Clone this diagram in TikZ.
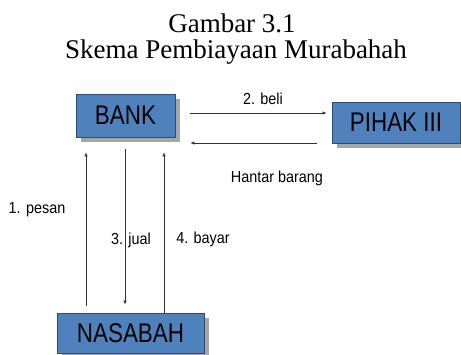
\documentclass[tikz,border=0pt]{standalone}
\usepackage{fontspec}
\setmainfont{Liberation Serif}
\setsansfont{Liberation Sans}
\usetikzlibrary{arrows.meta}
\definecolor{boxblue}{HTML}{4F81BD}
\definecolor{boxedge}{HTML}{2C4D75}
\definecolor{shadowgray}{HTML}{A6A6A6}
\definecolor{linegray}{HTML}{333333}
\begin{document}
\begin{tikzpicture}[x=1pt,y=-1pt,
  party/.style={draw=boxedge, line width=0.8pt, fill=boxblue, inner sep=0pt,
    font=\sffamily\fontsize{27}{30}\selectfont},
  boxshadow/.style={fill=shadowgray, draw=none},
  arr/.style={draw=linegray, line width=0.7pt, -{Latex[length=4pt,width=3.5pt]}},
  lbl/.style={font=\sffamily\fontsize{16}{18}\selectfont, inner sep=0pt},
  ttl/.style={font=\rmfamily\fontsize{27}{30}\selectfont, inner sep=0pt, anchor=base}]
\useasboundingbox (0,0) rectangle (461,355);

% title
\node[ttl] (t1) at (232,33) {Gambar 3.1};
\node[ttl] (t2) at (236,59) {Skema Pembiayaan Murabahah};

% shadows behind the boxes
\fill[boxshadow] (81,99) rectangle (180,142);
\fill[boxshadow] (337,107) rectangle (461,148);
\fill[boxshadow] (62,318) rectangle (209,355);

% parties
\node[party, minimum width=99pt, minimum height=43pt] (bank) at (125.5,115.5)
  {\scalebox{0.83}[1]{BANK}};
\node[party, minimum width=128pt, minimum height=41pt] (pihak) at (396,122.5)
  {\scalebox{0.83}[1]{PIHAK III}};
\node[party, minimum width=147pt, minimum height=40pt] (nasabah) at (130.5,333)
  {\scalebox{0.83}[1]{NASABAH}};

% reference rows and columns for the connectors
\coordinate (rowbuy) at (0,113);
\coordinate (rowdel) at (0,143);
\coordinate (colorder) at (86,0);
\coordinate (colsell) at (125,0);
\coordinate (colpay) at (164,0);

% bank <-> third party
\draw[arr, shorten <=15pt, shorten >=5pt] (bank.east |- rowbuy) -- (pihak.west |- rowbuy);
\draw[arr, shorten <=15pt, shorten >=15pt] (pihak.west |- rowdel) -- (bank.east |- rowdel);

% customer <-> bank
\draw[arr, shorten <=7pt, shorten >=15pt] (nasabah.north -| colorder) -- (bank.south -| colorder);
\draw[arr, shorten <=12pt, shorten >=8pt] (bank.south -| colsell) -- (nasabah.north -| colsell);
\draw[arr, shorten <=0pt, shorten >=15pt] (nasabah.north -| colpay) -- (bank.south -| colpay);

% labels
\node[lbl] (l2) at (263,99) {\scalebox{0.9}[1]{2. beli}};
\node[lbl] (lh) at (277,178) {\scalebox{0.9}[1]{Hantar barang}};
\node[lbl] (l1) at (37,210) {\scalebox{0.9}[1]{1. pesan}};
\node[lbl] (l3) at (131,240) {\scalebox{0.9}[1]{3. jual}};
\node[lbl] (l4) at (203,239) {\scalebox{0.9}[1]{4. bayar}};
\end{tikzpicture}
\end{document}
